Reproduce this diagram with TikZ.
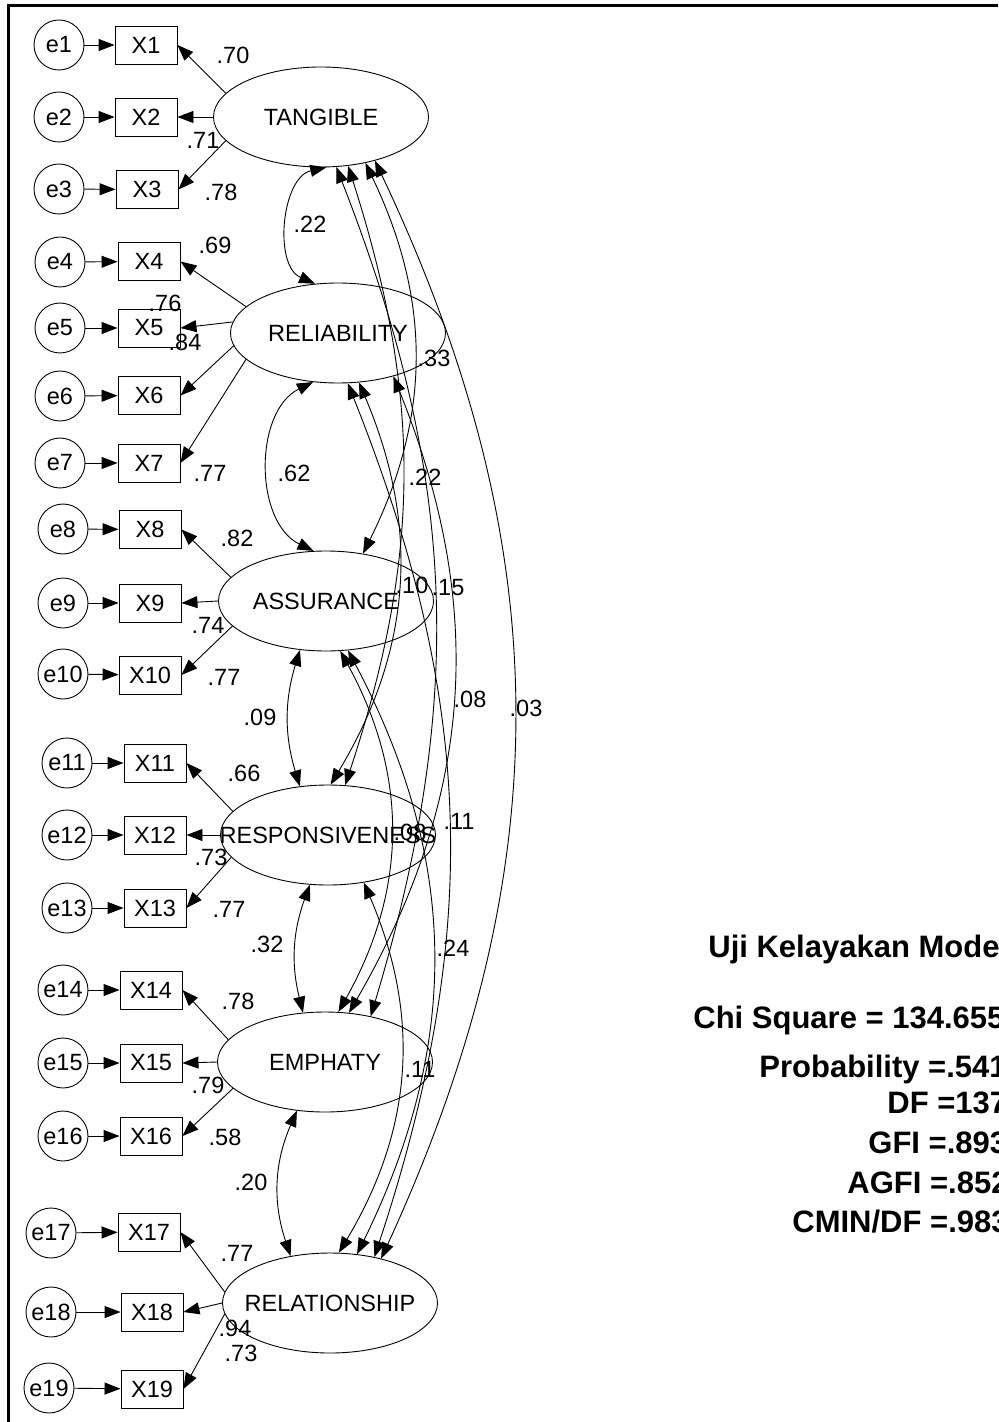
\documentclass[tikz,border=0pt]{standalone}
\usepackage{fontspec}
\setmainfont{Liberation Sans}
\usetikzlibrary{arrows.meta, shapes.geometric}
\newcommand{\amosfont}{\fontsize{11.75}{14}\selectfont}

\begin{document}
\begin{tikzpicture}[x=0.5pt, y=-0.5pt,
        lat/.style={draw, ellipse, line width=0.45pt, minimum width=107.5pt, minimum height=50pt, inner sep=0pt},
        err/.style={draw, circle, line width=0.45pt, minimum size=25pt, inner sep=0pt, font=\amosfont},
        obs/.style={draw, line width=0.45pt, minimum width=31pt, minimum height=19pt, inner sep=0pt, font=\amosfont},
        wt/.style={inner sep=0pt, font=\amosfont},
        pth/.style={-{Triangle[length=8pt, width=6pt]}, line width=0.45pt},
        cov/.style={{Triangle[length=8pt, width=6pt]}-{Triangle[length=8pt, width=6pt]}, line width=0.45pt},
        gof/.style={anchor=base west, inner sep=0pt, font=\fontsize{15.5}{18}\selectfont\bfseries},
        every label/.style={font=\amosfont, inner sep=0pt}
    ]
    \useasboundingbox (0,0) rectangle (998,1422);
    \clip (0,0) rectangle (998,1422);
    \draw[line width=1.35pt] (8.7,5.3) rectangle (1100,1500);

    % latent variables
    \node[lat, label=center:TANGIBLE] (tan) at (321,117) {};
    \node[lat, label=center:RELIABILITY] (rel) at (338,333) {};
    \node[lat, label=center:ASSURANCE] (asu) at (326,601) {};
    \node[lat, label=center:RESPONSIVENESS] (res) at (328,835) {};
    \node[lat, label=center:EMPHATY] (emp) at (325,1062) {};
    \node[lat, label=center:RELATIONSHIP] (rls) at (330,1303) {};

    % errors and indicators
    \foreach \i/\ex/\ey/\xx/\xy in {1/59/45/146/45, 2/59/117/146/117, 3/59/189/147/189.5,
            4/60/262/149/261.5, 5/60/328/149/328, 6/60/396/149/395.5, 7/60/463/149/463,
            8/63/529/150/529.5, 9/63/603/150/603, 10/63/674/150/675,
            11/67/763/155/763, 12/67/835/155/835, 13/67/908/155/908,
            14/63/990/151/990, 15/63/1063/151/1063, 16/63/1136/151/1136,
            17/51/1233/149/1232, 18/51/1312/152/1312, 19/49/1388/152/1389} {
        \node[err] (e\i) at (\ex,\ey) {e\i};
        \node[obs] (x\i) at (\xx,\xy) {X\i};
        \draw[pth] (e\i) -- (x\i);
    }

    % loadings
    \foreach \f/\a/\i in {tan/166/1, tan/180/2, tan/194.5/3, rel/164.4/4, rel/174.7/5,
            rel/187/6, rel/196/7, asu/166.5/8, asu/180/9, asu/195/10, res/166.4/11,
            res/180/12, res/193.5/13, emp/167/14, emp/180/15, emp/196/16,
            rls/174.7/17, rls/180.5/18, rls/186.5/19}
        \draw[pth] (\f.\a) -- (x\i.east);

    \foreach \v/\lx/\ly [count=\k] in {.70/233/55, .71/203/140, .78/221/192, .69/215/245,
            .76/165/303, .84/185/342, .77/210/473, .82/237/538, .74/208/625, .77/224/677,
            .66/244/773, .73/211/857, .77/229/909, .78/238/1001, .79/208/1085,
            .58/225/1137, .77/237/1253, .94/235/1328, .73/241/1353}
        \node[wt] (w\k) at (\lx,\ly) {\v};

    % correlations, neighbours (left)
    \draw[cov] (tan.-84.3) to[bend right=72] (rel.115.2);
    \draw[cov] (rel.-117.2) to[bend right=64] (asu.104.7);
    \draw[cov] (asu.-118.2) to[bend right=17] (res.120.1);
    \draw[cov] (res.-110) to[bend right=17] (emp.114.2);
    \draw[cov] (emp.-120.1) to[bend right=21] (rls.130.8);

    % correlations, long (right)
    \draw[cov] (tan.-46.8) to[bend left=26] (asu.52.6);
    \draw[cov] (tan.-61.8) to[bend left=18] (res.71);
    \draw[cov] (tan.-73.1) to[bend left=19] (emp.45.3);
    \draw[cov] (tan.-39.4) to[bend left=25] (rls.41.5);
    \draw[cov] (rel.-67.8) to[bend left=27] (res.87.7);
    \draw[cov] (rel.-38) to[bend left=26] (emp.64.8);
    \draw[cov] (rel.-79.8) to[bend left=20] (rls.46);
    \draw[cov] (asu.-74.2) to[bend left=29] (emp.75.3);
    \draw[cov] (asu.-66.8) to[bend left=27] (rls.61.8);
    \draw[cov] (res.-53.4) to[bend left=27] (rls.80.9);

    \foreach \v/\lx/\ly [count=\k] in {.22/310/224, .62/294/473, .09/260/717, .32/267/944,
            .20/251/1182, .33/434/358, .22/425/477, .10/412/585, .15/448/588,
            .08/470/699, .03/526/708, .08/410/832, .11/459/821, .24/453/948, .11/420/1069}
        \node[wt] (c\k) at (\lx,\ly) {\v};

    % goodness of fit
    \node[gof] (g1) at (708,957) {Uji Kelayakan Mode};
    \node[gof] (g2) at (693,1028) {Chi Square = 134.655};
    \node[gof] (g3) at (759,1077) {Probability =.541};
    \node[gof] (g4) at (887,1113) {DF =137};
    \node[gof] (g5) at (868,1153) {GFI =.893};
    \node[gof] (g6) at (847,1193) {AGFI =.852};
    \node[gof] (g7) at (792,1232) {CMIN/DF =.983};
\end{tikzpicture}
\end{document}
